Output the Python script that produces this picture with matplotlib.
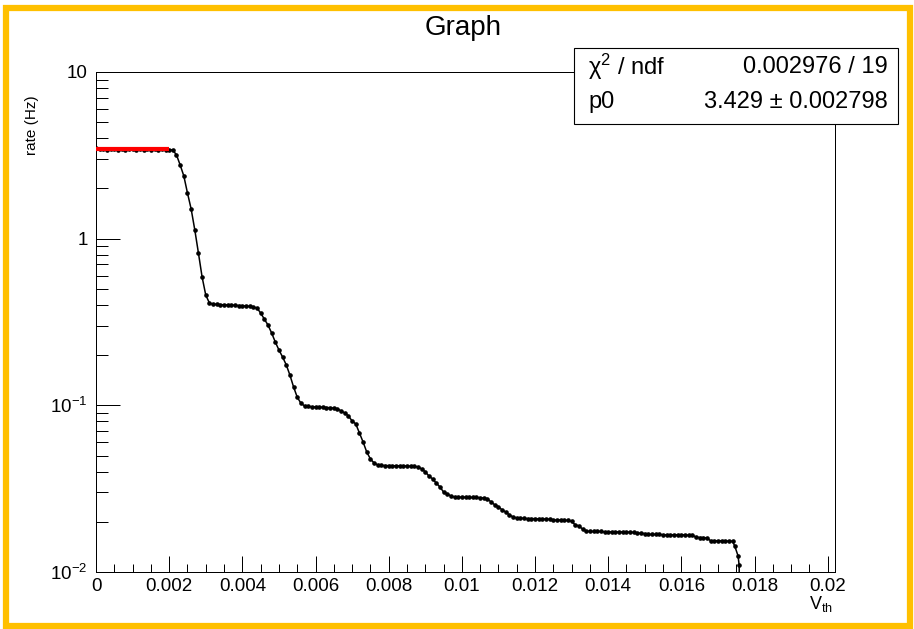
import numpy as np
import matplotlib
matplotlib.use("Agg")
import matplotlib.pyplot as plt
from matplotlib.patches import Rectangle
from matplotlib.ticker import (FixedLocator, FixedFormatter, LogLocator,
                               MultipleLocator, NullFormatter, FuncFormatter)

plt.rcParams['font.family'] = ['Liberation Sans', 'DejaVu Sans']
plt.rcParams['mathtext.fontset'] = 'custom'
plt.rcParams['mathtext.rm'] = 'Liberation Sans'
plt.rcParams['mathtext.it'] = 'Liberation Sans:italic'

# threshold scan, 0.1 mV steps
vth_step = 0.0001
rate = [
    3.52, 3.44, 3.43, 3.42, 3.44, 3.43, 3.41, 3.43, 3.42, 3.43,
    3.44, 3.42, 3.43, 3.42, 3.43, 3.41, 3.43, 3.42, 3.43, 3.41,
    3.42, 3.40, 3.18, 2.77, 2.38, 1.88, 1.51, 1.13, 0.82, 0.589,
    0.459, 0.411,
    0.405, 0.403, 0.402, 0.401, 0.400, 0.399, 0.398, 0.397, 0.396, 0.394,
    0.392, 0.388,
    0.384, 0.358, 0.330, 0.3035, 0.272, 0.240, 0.215, 0.195, 0.175, 0.152,
    0.129, 0.112, 0.103, 0.0992,
    0.0985, 0.098, 0.0978, 0.0975, 0.0973, 0.097, 0.0968, 0.0962,
    0.0952, 0.0926, 0.0900, 0.0864, 0.0806, 0.0774, 0.0683, 0.0603, 0.0525,
    0.0477, 0.0451, 0.0439,
    0.0436, 0.0435, 0.0435, 0.0434, 0.0434, 0.0433, 0.0433, 0.0432, 0.0431,
    0.0430,
    0.0427, 0.0416, 0.0399, 0.0377, 0.0362, 0.0342, 0.0324, 0.0302, 0.0294,
    0.0286,
    0.0282, 0.0281, 0.0281, 0.0281, 0.0280, 0.0280, 0.0280, 0.0279, 0.0278,
    0.02745, 0.0263, 0.0253, 0.0246, 0.0236, 0.0229, 0.0220, 0.0214, 0.0211,
    0.0210,
    0.0210, 0.0209, 0.0209, 0.0209, 0.0208, 0.0208, 0.0208, 0.0207,
    0.0205, 0.0205, 0.0205, 0.0204, 0.0204,
    0.0201, 0.0192, 0.0189, 0.0181, 0.0176,
    0.0175, 0.0175, 0.0175, 0.0175, 0.0174, 0.0174, 0.0174, 0.0174, 0.0174,
    0.0174, 0.0174, 0.0173, 0.0173,
    0.0171, 0.0171, 0.0170,
    0.0168, 0.0168, 0.0168, 0.0168, 0.0167, 0.0167, 0.0167, 0.0167, 0.0167,
    0.0167, 0.0167, 0.0166, 0.0166,
    0.0162, 0.0161, 0.0161, 0.0160,
    0.0154, 0.0154, 0.0154, 0.0154, 0.0154, 0.0153, 0.0153,
]
vth = np.arange(len(rate)) * vth_step

# last points of the scan, where the rate drops off
vth_tail = [0.01746, 0.01755, 0.01758, 0.0176]
rate_tail = [0.0143, 0.0125, 0.0110, 0.004]

# pol0 fit on the pedestal plateau
fit_range = [0.0, 0.002]
p0 = 3.429
p0_err = 0.002798
chi2 = 0.002976
ndf = 19

W, H = 914, 629
fig = plt.figure(figsize=(W / 100, H / 100), dpi=100)
ax = fig.add_axes([96 / W, 1 - 572 / H, (835 - 96) / W, (572 - 72) / H])

x = np.concatenate([vth, vth_tail])
y = np.concatenate([rate, rate_tail])
ax.plot(x, y, color='black', lw=1.1, marker='o', ms=2.3, zorder=2)
ax.plot(fit_range, [p0, p0], color='red', lw=3.0, zorder=3, solid_capstyle='butt')

ax.set_yscale('log')
ax.set_ylim(0.01, 10)
ax.set_xlim(0, 0.0202)

ax.xaxis.set_major_locator(MultipleLocator(0.002))
ax.xaxis.set_minor_locator(MultipleLocator(0.0005))
ax.xaxis.set_major_formatter(FuncFormatter(lambda v, pos: f'{v:g}'))
ax.yaxis.set_major_locator(FixedLocator([0.01, 0.1, 1, 10]))
ax.yaxis.set_major_formatter(FixedFormatter(['$10^{-2}$', '$10^{-1}$', '1', '10']))
ax.yaxis.set_minor_locator(LogLocator(base=10, subs=np.arange(2, 10)))
ax.yaxis.set_minor_formatter(NullFormatter())

ax.tick_params(axis='both', which='both', direction='in', top=False, right=False,
               width=0.72, colors='black', labelsize=13.5)
ax.tick_params(axis='x', which='major', length=11.5, pad=4)
ax.tick_params(axis='x', which='minor', length=5.8)
ax.tick_params(axis='y', which='major', length=17.3, pad=6)
ax.tick_params(axis='y', which='minor', length=8.6)
for s in ax.spines.values():
    s.set_linewidth(0.72)
    s.set_color('black')

# title and axis titles
fig.text(463 / W, 1 - 28 / H, 'Graph', ha='center', va='center', fontsize=20)
fig.text(32 / W, 1 - 95 / H, 'rate (Hz)', rotation=90, ha='center', va='top', fontsize=11)
fig.text(833 / W, 1 - 604 / H, r'$\mathregular{V_{th}}$', ha='right', va='center', fontsize=13)

# fit statistics box
box = Rectangle((574 / W, 1 - 124 / H), (898 - 574) / W, (124 - 48) / H,
                transform=fig.transFigure, facecolor='white', edgecolor='black',
                lw=0.8, zorder=5)
fig.add_artist(box)
fig.text(588 / W, 1 - 67 / H, 'χ$^{2}$ / ndf', ha='left', va='center', fontsize=17, zorder=6)
fig.text(888 / W, 1 - 67 / H, f'{chi2:g} / {ndf}', ha='right', va='center', fontsize=17, zorder=6)
fig.text(588 / W, 1 - 102 / H, 'p0', ha='left', va='center', fontsize=17, zorder=6)
fig.text(888 / W, 1 - 102 / H, f'{p0:g} ± {p0_err:g}', ha='right', va='center', fontsize=17, zorder=6)

# canvas border
frame = Rectangle((6 / W, 3 / H), (910 - 6) / W, (621 - 3) / H, transform=fig.transFigure,
                  fill=False, edgecolor='#FFC000', lw=4.5, zorder=10)
fig.add_artist(frame)

fig.savefig('out.png', dpi=100)
